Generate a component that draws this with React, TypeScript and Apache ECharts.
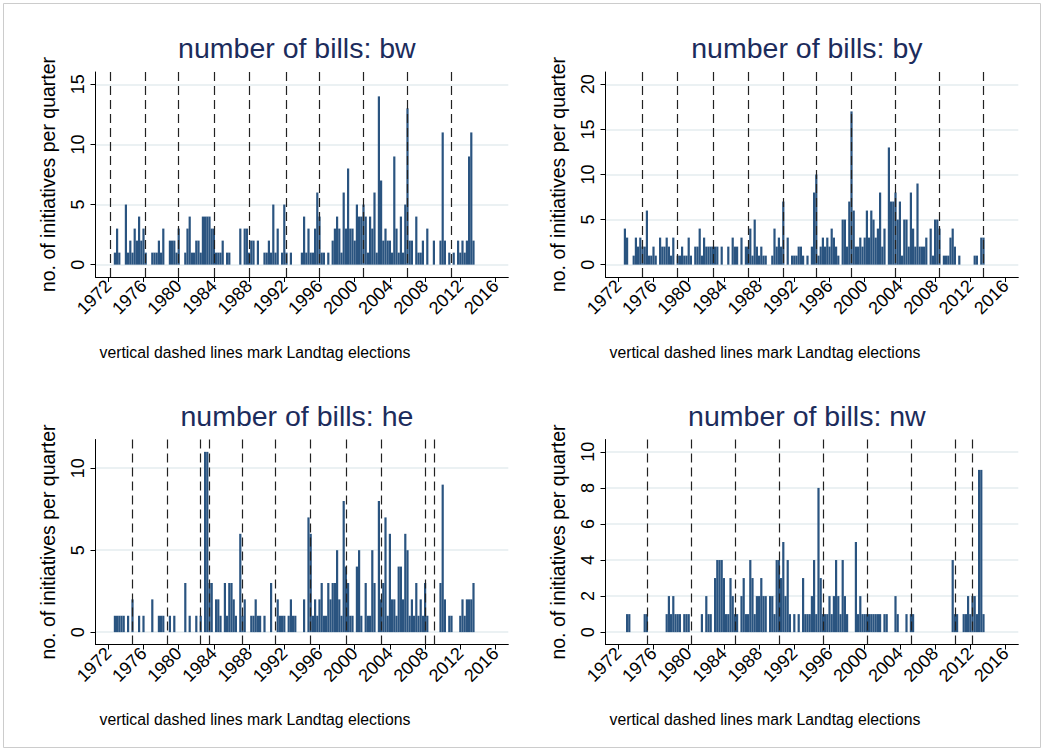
import React, { useEffect, useRef } from 'react';
import * as echarts from 'echarts';

// quarterly counts, first value = 1972q1, one row per year (q1..q4)
const bwBills = [
  0,0,0,1, 3,1,0,0, 5,1,2,1, 3,2,4,2, 3,1,0,0, 1,1,1,2, 1,3,0,0, 2,2,2,1,
  3,0,0,1, 3,4,1,1, 2,2,1,4, 4,4,4,3, 3,1,1,1, 2,0,1,1, 0,0,0,0, 3,0,3,3,
  1,2,2,0, 2,0,0,1, 1,2,1,5, 1,3,0,1, 5,1,0,1, 0,0,0,0, 1,4,1,3, 1,1,3,6,
  4,1,1,0, 1,0,2,3, 4,3,1,6, 3,8,3,3, 2,5,4,4, 5,4,1,4, 3,6,1,14, 7,2,3,2,
  2,1,9,3, 1,4,1,5, 13,2,2,0, 4,1,1,2, 0,3,0,0, 2,0,0,2, 11,2,0,1, 0,1,0,2,
  1,2,1,2, 9,11,2,0,
];
const byBills = [
  0,0,0,4, 3,0,0,1, 3,2,3,2, 2,6,1,1, 2,1,0,3, 2,2,3,2, 1,3,0,1, 1,2,1,1,
  3,1,0,2, 2,4,1,3, 2,2,2,2, 2,2,0,2, 0,0,2,0, 3,2,2,0, 3,0,2,2, 4,1,5,2,
  1,2,1,1, 0,0,1,4, 2,3,2,7, 0,3,0,1, 1,1,2,2, 1,0,1,0, 2,8,10,1, 2,3,2,3,
  2,4,3,2, 1,0,5,5, 2,7,17,6, 2,2,3,2, 3,6,3,6, 5,3,4,8, 2,4,0,13, 7,7,8,5,
  7,1,5,5, 2,8,4,2, 9,2,2,2, 3,0,4,1, 5,5,4,0, 1,1,1,3, 4,2,0,1, 0,0,0,0,
  0,0,1,1, 0,3,3,0,
];
const heBills = [
  0,0,0,1, 1,1,1,1, 0,1,0,2, 0,0,1,0, 1,0,0,0, 2,0,0,1, 1,1,0,0, 1,0,1,0,
  0,0,0,3, 0,1,0,0, 1,0,1,0, 11,11,3,3, 0,2,2,1, 0,3,1,3, 3,2,1,0, 6,1,2,0,
  0,1,1,2, 1,1,0,1, 0,0,3,0, 0,2,1,1, 1,0,1,2, 1,1,0,0, 0,2,0,7, 6,1,2,1,
  2,3,1,1, 3,2,3,3, 5,2,1,8, 4,3,1,1, 0,4,5,1, 0,3,1,1, 5,3,0,8, 2,3,7,1,
  6,2,2,1, 4,4,2,6, 5,1,2,1, 3,1,2,1, 3,1,0,0, 0,0,0,3, 9,2,0,1, 1,0,0,0,
  1,2,1,2, 2,2,3,0,
];
const nwBills = [
  0,0,0,0, 1,1,0,0, 0,0,0,0, 1,1,0,0, 0,0,0,0, 0,0,1,2, 1,2,1,1, 1,0,1,1,
  1,0,0,0, 0,0,1,0, 2,1,1,0, 3,4,4,4, 3,1,1,3, 2,1,1,0, 2,3,1,1, 4,3,1,2,
  2,3,2,2, 0,2,2,1, 4,4,3,5, 2,4,1,0, 1,0,1,0, 3,1,1,1, 2,4,1,8, 3,1,1,1,
  2,1,2,4, 2,1,4,2, 1,0,0,0, 5,1,2,1, 1,1,1,1, 1,1,1,1, 0,1,1,0, 0,0,2,1,
  0,0,0,1, 0,1,1,0, 0,0,0,0, 0,0,0,0, 0,0,0,0, 0,0,0,0, 4,1,1,0, 0,1,1,2,
  1,2,2,1, 9,9,1,0,
];
const FIRST_YEAR = 1972;

// Landtag election quarters (year + (quarter-1)/4)
const bwElections = [1972.25, 1976.25, 1980, 1984, 1988, 1992.25, 1996, 2001, 2006, 2011];
const byElections = [1974.75, 1978.75, 1982.75, 1986.75, 1990.75, 1994.5, 1998.5, 2003.5, 2008.5, 2013.5];
const heElections = [1974.75, 1978.75, 1982.5, 1983.5, 1987.25, 1991, 1995, 1999, 2003, 2008, 2009];
const nwElections = [1975.25, 1980.25, 1985.25, 1990.25, 1995.25, 2000.25, 2005.25, 2010.25, 2012.25];

const yearTicks = [1972, 1976, 1980, 1984, 1988, 1992, 1996, 2000, 2004, 2008, 2012, 2016];
const bwTicks = [0, 5, 10, 15];
const byTicks = [0, 5, 10, 15, 20];
const heTicks = [0, 5, 10];
const nwTicks = [0, 2, 4, 6, 8, 10];

const panelTitles = ['number of bills: bw', 'number of bills: by', 'number of bills: he', 'number of bills: nw'];
const yTitle = 'no. of initiatives per quarter';
const noteText = 'vertical dashed lines mark Landtag elections';

const FONT = '"Liberation Sans", Arial, Helvetica, sans-serif';

export default function App() {
  const ref = useRef<HTMLDivElement>(null);
  useEffect(() => {
    if (!ref.current) return;
    const chart = echarts.init(ref.current, null, { renderer: 'svg' });

    const panels = [
      { data: bwBills, elections: bwElections, ticks: bwTicks, rangeMax: 15, left: 95.5, top: 72 },
      { data: byBills, elections: byElections, ticks: byTicks, rangeMax: 20, left: 605.5, top: 72 },
      { data: heBills, elections: heElections, ticks: heTicks, rangeMax: 11, left: 95.5, top: 439.5 },
      { data: nwBills, elections: nwElections, ticks: nwTicks, rangeMax: 10, left: 605.5, top: 439.5 },
    ];
    const W = 412.8, H = 205, M = 12.35;

    const option: any = {
      animation: false,
      backgroundColor: '#ffffff',
      grid: panels.map(p => ({ left: p.left, top: p.top, width: W, height: H, containLabel: false })),
      xAxis: panels.map((p, k) => ({
        type: 'value', gridIndex: k, min: 1970.545, max: 2017.455,
        axisLine: { show: true, onZero: false, lineStyle: { color: '#000', width: 1 } },
        axisTick: { show: true, length: 5, customValues: yearTicks, lineStyle: { color: '#000', width: 1 } },
        axisLabel: { customValues: yearTicks, rotate: 45, margin: 6, fontSize: 18, color: '#000', fontFamily: FONT, formatter: (v: number) => String(v) },
        splitLine: { show: false },
      })),
      yAxis: panels.map((p, k) => {
        const ppu = (H - 2 * M) / p.rangeMax;
        return {
          type: 'value', gridIndex: k, min: -M / ppu, max: p.rangeMax + M / ppu,
          axisLine: { show: true, onZero: false, lineStyle: { color: '#000', width: 1 } },
          axisTick: { show: true, length: 5, customValues: p.ticks, lineStyle: { color: '#000', width: 1 } },
          axisLabel: { customValues: p.ticks, rotate: 90, margin: 9, fontSize: 18, color: '#000', fontFamily: FONT },
          splitLine: { show: true, lineStyle: { color: '#e4ecef', width: 1.5 } },
          name: yTitle, nameLocation: 'middle', nameRotate: 90, nameGap: 38,
          nameTextStyle: { fontSize: 19.5, color: '#000', fontFamily: FONT },
        };
      }),
      series: panels.map((p, k) => ({
        type: 'bar', xAxisIndex: k, yAxisIndex: k,
        data: p.data.map((v, i) => [FIRST_YEAR + i / 4, v]),
        barWidth: 2.2,
        itemStyle: { color: '#2a5480' },
        silent: true,
        markLine: {
          silent: true, symbol: ['none', 'none'], label: { show: false },
          lineStyle: { color: '#222', type: [9, 5], width: 1.2 },
          data: p.elections.map(e => ({ xAxis: e })),
        },
      })),
      graphic: [
        { type: 'rect', shape: { x: 3.5, y: 3.5, width: 1037, height: 744 }, style: { fill: 'none', stroke: '#cccccc', lineWidth: 1 }, silent: true },
        ...panelTitles.map((t, k) => ({
          type: 'text', x: panels[k].left + W / 2 - 5, y: panels[k].top - 24,
          style: { text: t, fontSize: 28.5, fill: '#1c2c5c', fontFamily: FONT, textAlign: 'center', textVerticalAlign: 'middle' },
        })),
        ...panels.map(p => ({
          type: 'text', x: p.left + 4, y: p.top + 280,
          style: { text: noteText, fontSize: 15.8, fill: '#000', fontFamily: FONT, textAlign: 'left', textVerticalAlign: 'middle' },
        })),
      ],
    };
    chart.setOption(option);
    return () => chart.dispose();
  }, []);
  return <div ref={ref} style={{ position: 'absolute', left: 0, top: 0, width: 1054, height: 751 }} />;
}
